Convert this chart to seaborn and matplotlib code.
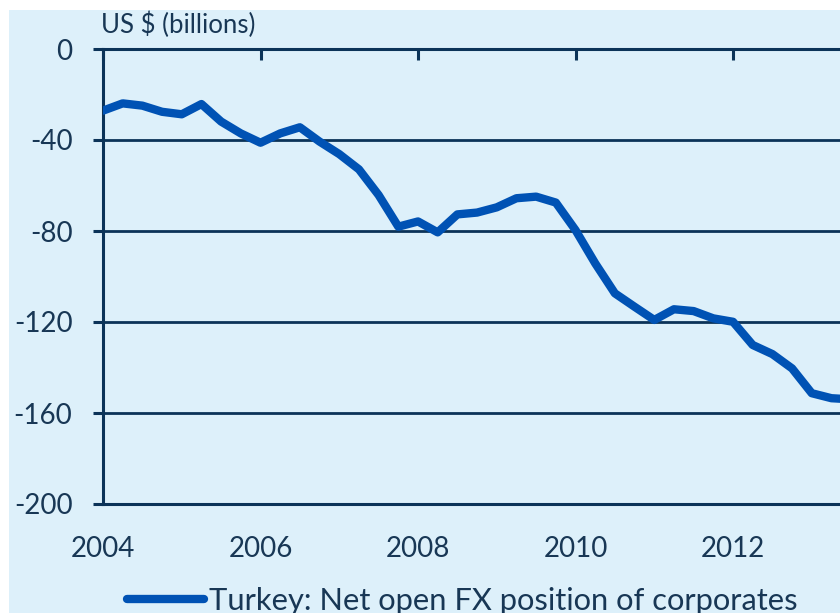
import matplotlib
matplotlib.use("Agg")
import matplotlib.pyplot as plt
import seaborn as sns
import pandas as pd
from matplotlib.patches import Rectangle

# Quarterly net open FX position of Turkish corporates (US$ bn)
quarters = [
    2004.00, 2004.25, 2004.50, 2004.75,
    2005.00, 2005.25, 2005.50, 2005.75,
    2006.00, 2006.25, 2006.50, 2006.75,
    2007.00, 2007.25, 2007.50, 2007.75,
    2008.00, 2008.25, 2008.50, 2008.75,
    2009.00, 2009.25, 2009.50, 2009.75,
    2010.00, 2010.25, 2010.50, 2010.75,
    2011.00, 2011.25, 2011.50, 2011.75,
    2012.00, 2012.25, 2012.50, 2012.75,
    2013.00, 2013.25, 2013.50,
]
net_open_fx = [
    -27.1, -23.9, -24.9, -27.6,
    -28.7, -24.2, -31.9, -37.1,
    -41.2, -37.1, -34.4, -40.7,
    -46.2, -52.9, -64.2, -78.1,
    -75.8, -80.6, -72.7, -71.9,
    -69.6, -65.6, -64.9, -67.5,
    -79.6, -94.2, -107.4, -113.3,
    -119.1, -114.4, -115.2, -118.4,
    -119.9, -130.1, -134.1, -140.4,
    -151.3, -153.5, -154.0,
]
year_ticks = [2004, 2006, 2008, 2010, 2012]
value_ticks = [0, -40, -80, -120, -160, -200]
series_label = "Turkey: Net open FX position of corporates"
unit_label = "US $ (billions)"

BG = "#DDF0FA"
LINE = "#0052B4"
NAVY = "#0B3358"
TEXT = "#183755"

sns.set_theme(style="white")
plt.rcParams["font.family"] = ["Lato", "DejaVu Sans"]

W, H = 840, 613
fig = plt.figure(figsize=(W / 100, H / 100), dpi=100, facecolor="white")
fig.patches.append(Rectangle((9 / W, 0), 1 - 9 / W, 1 - 10 / H,
                             transform=fig.transFigure, facecolor=BG,
                             edgecolor="none", zorder=-10))

ax = fig.add_axes([103 / W, 1 - 504 / H, (W - 103) / W, (504 - 49) / H])
ax.set_facecolor(BG)

df = pd.DataFrame({"quarter": quarters, "value": net_open_fx})
sns.lineplot(data=df, x="quarter", y="value", ax=ax, color=LINE,
             linewidth=6.0, label=series_label, zorder=5)

ax.set_xlim(2004, 2004 + (W - 103) / 78.75)
ax.set_ylim(-200, 0)
ax.set_xticks(year_ticks)
ax.set_xticklabels([str(y) for y in year_ticks])
ax.set_yticks(value_ticks)
ax.set_yticklabels([str(v) for v in value_ticks])
ax.set_xlabel("")
ax.set_ylabel("")

for v in value_ticks[1:-1]:
    ax.axhline(v, color=NAVY, linewidth=2.0, zorder=2)

for side in ["top", "bottom", "left"]:
    ax.spines[side].set_visible(True)
    ax.spines[side].set_color(NAVY)
    ax.spines[side].set_linewidth(2.2)
ax.spines["right"].set_visible(False)

ax.tick_params(axis="x", which="both", top=True, bottom=False,
               labeltop=False, labelbottom=True, direction="in",
               length=8, width=2.2, color=NAVY, pad=23,
               labelsize=20, labelcolor=TEXT)
ax.tick_params(axis="y", which="both", left=True, direction="out",
               length=7, width=2.2, color=NAVY, pad=15,
               labelsize=20, labelcolor=TEXT)

fig.text(101 / W, 1 - 33 / H, unit_label, ha="left", va="baseline",
         fontsize=18.5, color=TEXT)

leg = ax.legend(loc="center left", bbox_to_anchor=(127 / W, 1 - 601 / H),
                bbox_transform=fig.transFigure, frameon=False,
                borderpad=0, borderaxespad=0, handlelength=2.5,
                handletextpad=0.15, fontsize=22.2)
for t in leg.get_texts():
    t.set_color(TEXT)
for h in leg.get_lines():
    h.set_linewidth(6.0)
    h.set_solid_capstyle("round")

fig.savefig("out.png", dpi=100, facecolor="white")
